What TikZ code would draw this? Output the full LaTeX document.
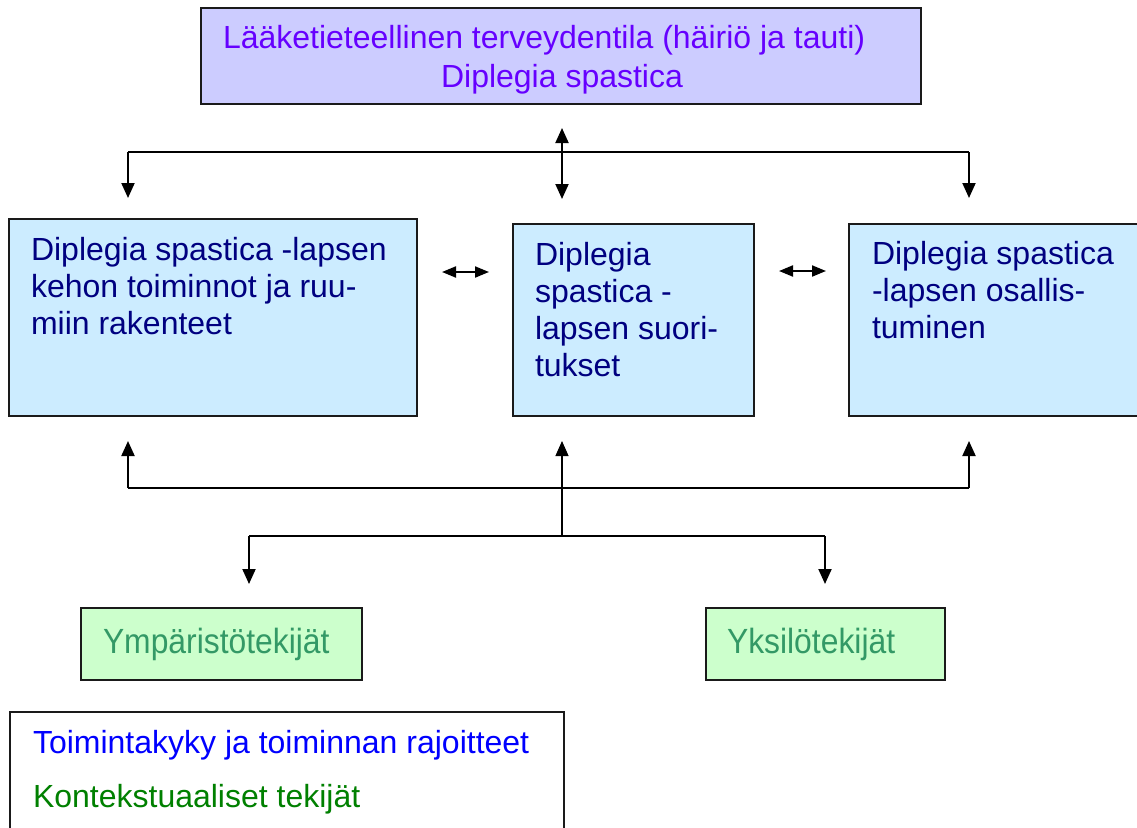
\documentclass[tikz,border=0pt]{standalone}
\usepackage{fontspec}
\setmainfont{Liberation Sans}
\newfontfamily\grnfont[FakeStretch=0.91]{Liberation Sans}
\usetikzlibrary{arrows.meta}
\definecolor{topfill}{HTML}{CCCCFF}
\definecolor{toptext}{HTML}{6600FF}
\definecolor{midfill}{HTML}{CCECFF}
\definecolor{midtext}{HTML}{000080}
\definecolor{grnfill}{HTML}{CCFFCC}
\definecolor{grntext}{HTML}{339966}
\definecolor{legblue}{HTML}{0000FF}
\definecolor{leggreen}{HTML}{008000}
\definecolor{edge}{HTML}{1A1A1A}
\tikzset{
  box/.style={draw=edge, line width=1.6pt, rectangle, inner sep=0pt, outer sep=0pt, anchor=north west},
  txt/.style={inner sep=0pt, outer sep=0pt, font=\fontsize{32}{37}\selectfont, align=left},
  gtxt/.style={inner sep=0pt, outer sep=0pt, font=\grnfont\fontsize{35}{40}\selectfont},
  conn/.style={draw=black, line width=2pt},
  tipv/.style={-{Triangle[length=15pt,width=13pt]}},
  tipvv/.style={{Triangle[length=15pt,width=13pt]}-{Triangle[length=15pt,width=13pt]}},
  tipd/.style={{Triangle[length=14pt,width=11pt]}-{Triangle[length=14pt,width=11pt]}},
}
\begin{document}
\begin{tikzpicture}[x=1pt,y=-1pt]
\useasboundingbox (0,0) rectangle (1137,827);
% boxes
\node[box, fill=topfill, minimum width=720pt, minimum height=96pt] (top) at (201,8) {};
\node[box, fill=midfill, minimum width=408pt, minimum height=197pt] (body) at (9,219) {};
\node[box, fill=midfill, minimum width=241pt, minimum height=192pt] (act) at (513,224) {};
\node[box, fill=midfill, minimum width=300pt, minimum height=192pt] (part) at (849,224) {};
\node[box, fill=grnfill, minimum width=281pt, minimum height=72pt] (env) at (81,608) {};
\node[box, fill=grnfill, minimum width=239pt, minimum height=72pt] (pers) at (706,608) {};
\node[box, fill=white, minimum width=554pt, minimum height=130pt] (leg) at (10,712) {};
% texts
\node[txt, text=toptext, anchor=base west] (topt1) at (223,48) {Lääketieteellinen terveydentila (häiriö ja tauti)};
\node[txt, text=toptext, anchor=base] (topt2) at (562,87) {Diplegia spastica};
\node[txt, text=midtext, anchor=north west] (bodyt) at (31,237) {Diplegia spastica -lapsen\\kehon toiminnot ja ruu-\\miin rakenteet};
\node[txt, text=midtext, anchor=north west] (actt) at (535,242) {Diplegia\\spastica -\\lapsen suori-\\tukset};
\node[txt, text=midtext, anchor=north west] (partt) at (872,241) {Diplegia spastica\\-lapsen osallis-\\tuminen};
\node[gtxt, text=grntext, anchor=base west] (envt) at (103,653) {Ympäristötekijät};
\node[gtxt, text=grntext, anchor=base west] (perst) at (727,653) {Yksilötekijät};
\node[txt, text=legblue, anchor=base west] (leg1) at (33,753) {Toimintakyky ja toiminnan rajoitteet};
\node[txt, text=leggreen, anchor=base west] (leg2) at (33,807) {Kontekstuaaliset tekijät};
% connector points
\coordinate (tbL) at (128,152);
\coordinate (tbR) at (969,152);
\coordinate (taL) at (128,198);
\coordinate (taR) at (969,198);
\coordinate (tmU) at (562,128);
\coordinate (tmD) at (562,199);
\coordinate (h1a) at (442,272);
\coordinate (h1b) at (489,272);
\coordinate (h2a) at (779,271);
\coordinate (h2b) at (826,271);
\coordinate (bbL) at (128,488);
\coordinate (bbR) at (969,488);
\coordinate (baL) at (128,441);
\coordinate (baR) at (969,441);
\coordinate (baM) at (562,441);
\coordinate (lbM) at (562,536);
\coordinate (lbL) at (249,536);
\coordinate (lbR) at (825,536);
\coordinate (laL) at (249,584);
\coordinate (laR) at (825,584);
% connectors
\draw[conn] (tbL) -- (tbR);
\draw[conn, tipv] (tbL) -- (taL);
\draw[conn, tipv] (tbR) -- (taR);
\draw[conn, tipvv] (tmU) -- (tmD);
\draw[conn, tipd] (h1a) -- (h1b);
\draw[conn, tipd] (h2a) -- (h2b);
\draw[conn] (bbL) -- (bbR);
\draw[conn, tipv] (bbL) -- (baL);
\draw[conn, tipv] (bbR) -- (baR);
\draw[draw=black, line width=1.2pt, tipv] (lbM) -- (baM);
\draw[conn] (lbL) -- (lbR);
\draw[conn, tipv] (lbL) -- (laL);
\draw[conn, tipv] (lbR) -- (laR);
\end{tikzpicture}
\end{document}
